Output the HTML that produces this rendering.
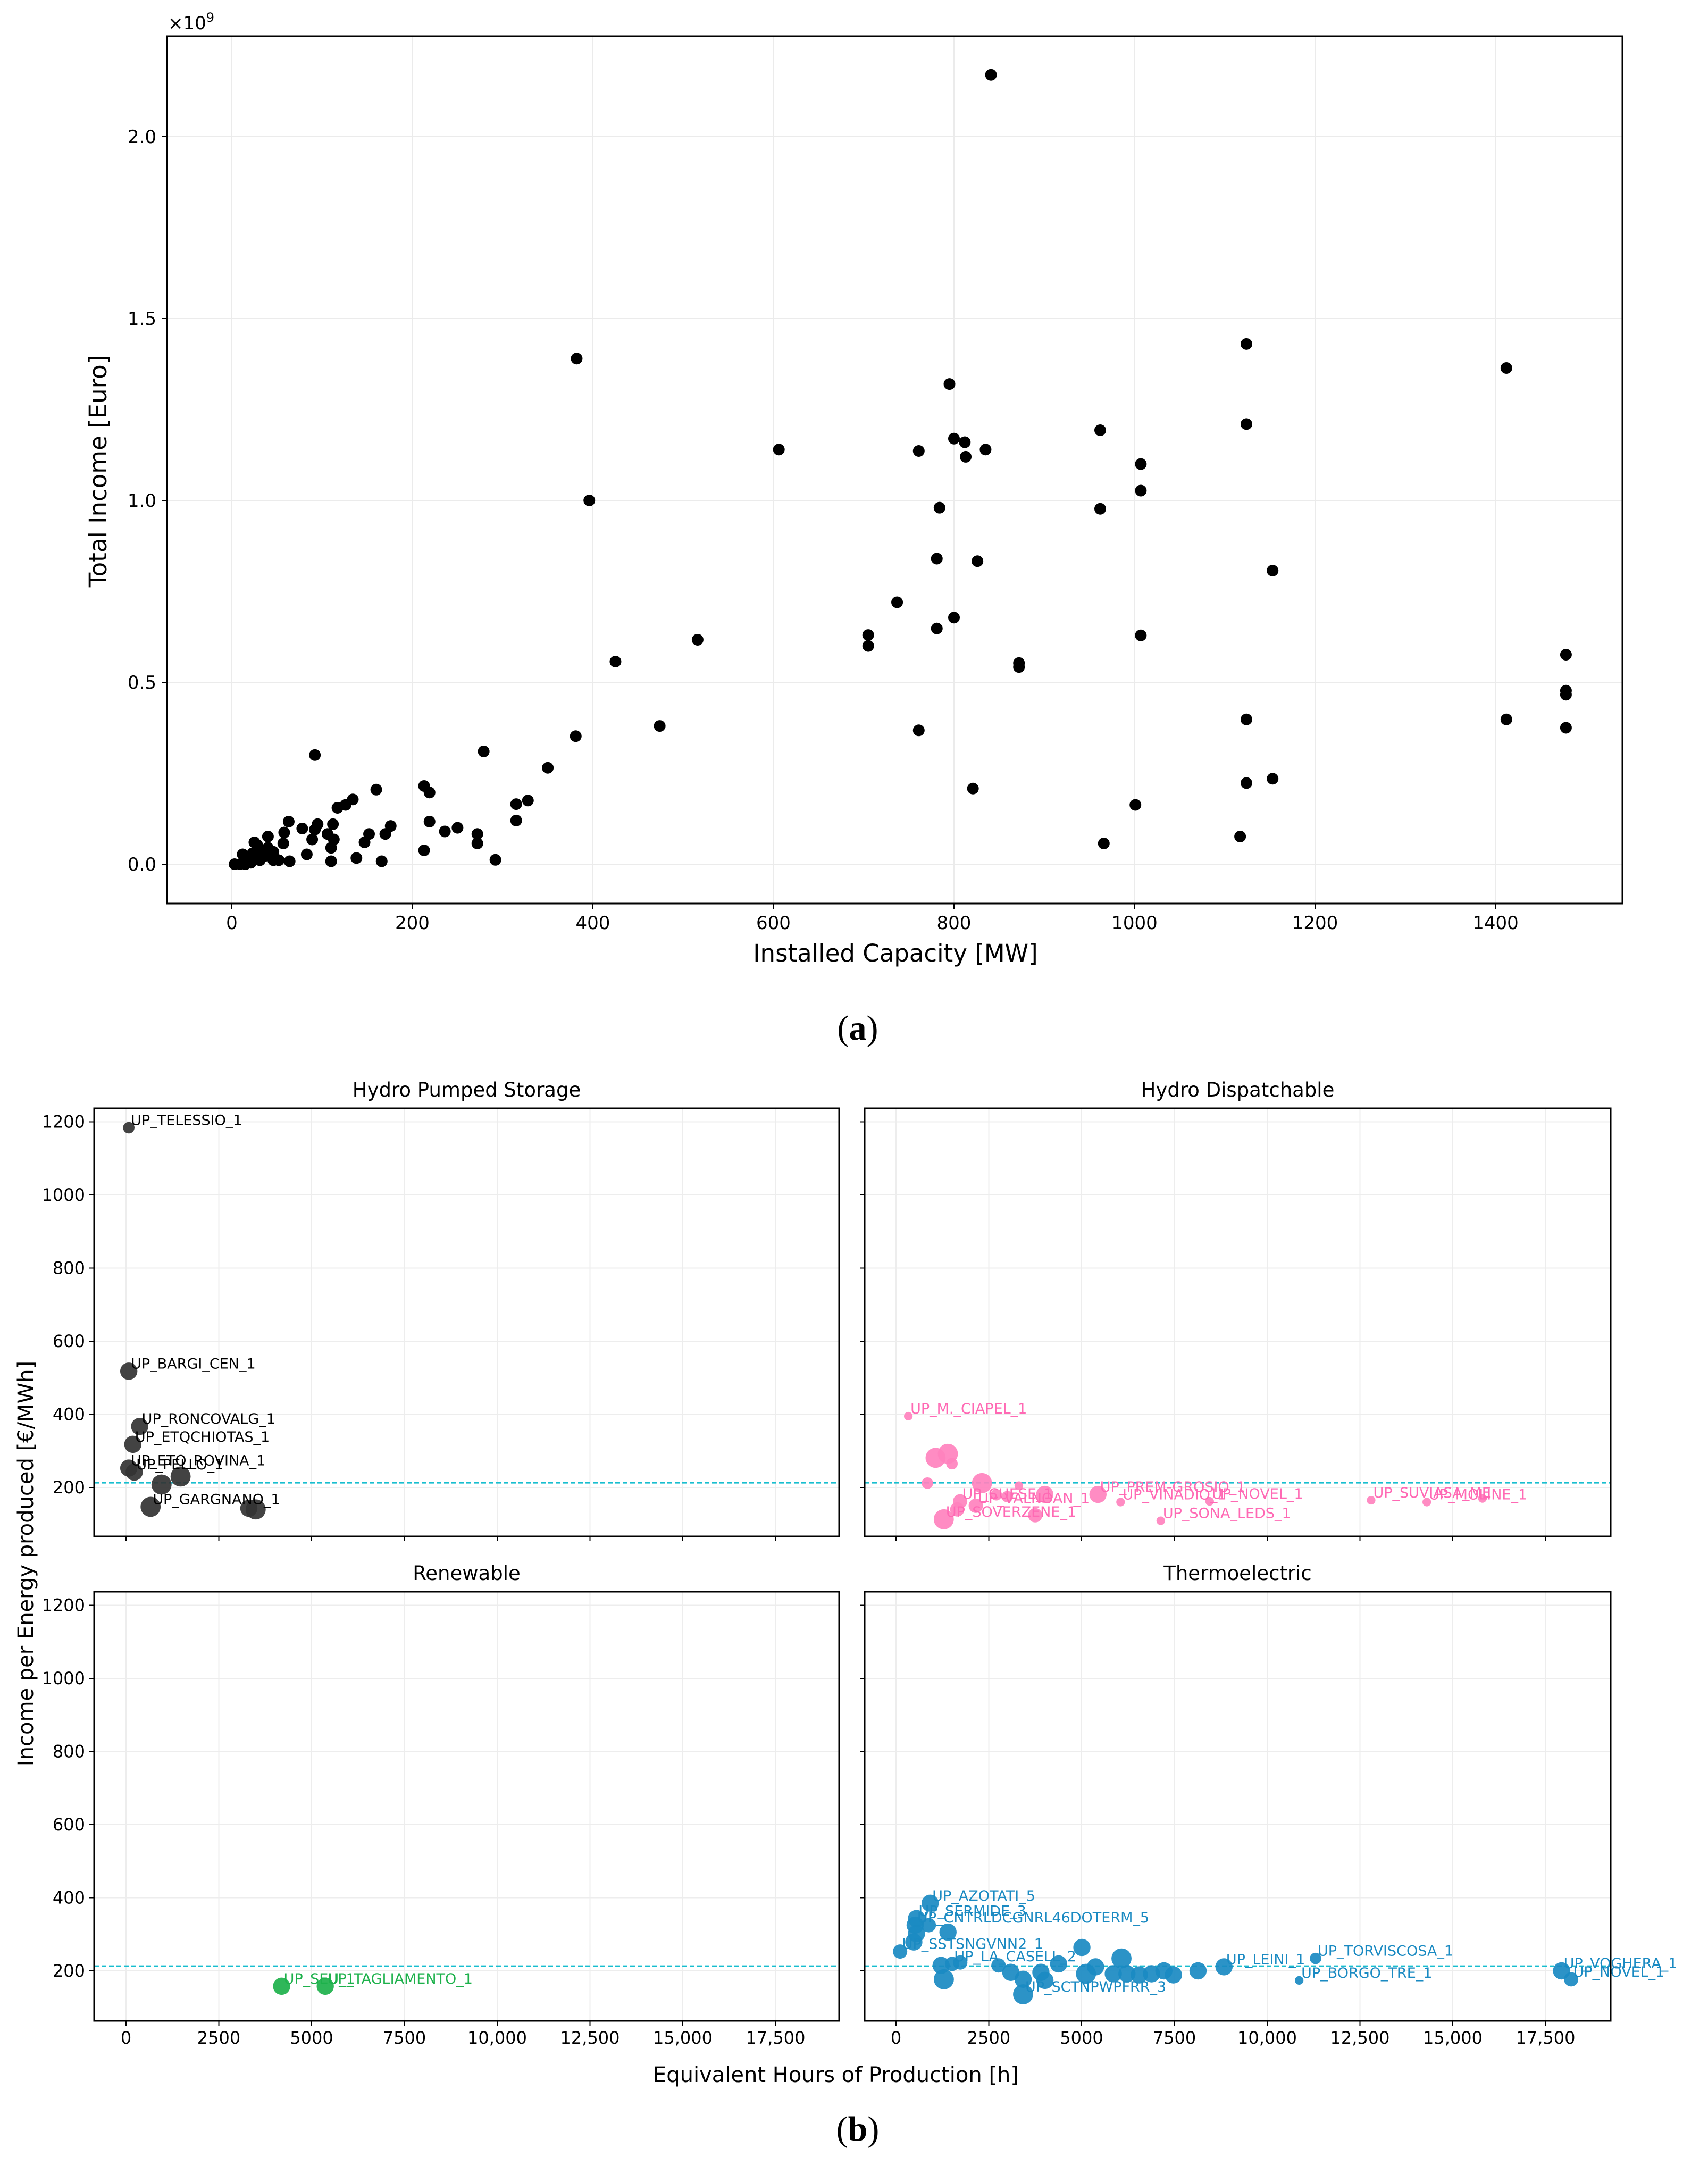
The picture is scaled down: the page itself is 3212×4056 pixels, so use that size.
<!DOCTYPE html>
<html><head><meta charset="utf-8">
<style>
html,body{margin:0;padding:0;background:#fff;}
svg{display:block;font-family:"DejaVu Sans","Liberation Sans",sans-serif;}
</style></head>
<body>
<svg id="fig" width="3212" height="4056" viewBox="0 0 3212 4056" xmlns="http://www.w3.org/2000/svg">
<rect width="3212" height="4056" fill="#fff"/>
</svg>
<script>
// ---------- Chart (a) data ----------
const capX = [841,382,396,606,425,516,474,381,350,279,328,315,315,292,272,272,250,236,219,219,213,213,176,170,160,166,152,147,138,134,126,117,112,110,110,113,106,95,92,92,89,83,78,64,63,58,52,57,46,40,40,34,28,23,18,15,9,3,12,21,31,28,37,46,25,
705,705,737,761,761,795,800,812,813,835,784,781,781,800,826,821,872,872,962,962,1007,1007,1007,1001,966,1124,1124,1153,1124,1124,1153,1117,1412,1412,1478,1478,1478,1478];
const incomeY = [2.17,1.39,1.00,1.14,0.557,0.617,0.38,0.352,0.265,0.31,0.175,0.165,0.12,0.012,0.083,0.057,0.10,0.09,0.117,0.197,0.215,0.038,0.105,0.083,0.205,0.008,0.083,0.06,0.017,0.178,0.163,0.155,0.11,0.045,0.008,0.068,0.083,0.11,0.095,0.30,0.068,0.027,0.098,0.008,0.117,0.087,0.011,0.057,0.034,0.045,0.076,0.027,0.053,0.03,0.015,0,0,0,0.027,0.004,0.011,0.038,0.023,0.011,0.06,
0.63,0.60,0.72,1.136,0.368,1.32,1.17,1.16,1.12,1.14,0.98,0.84,0.648,0.678,0.833,0.208,0.553,0.542,1.193,0.977,1.10,1.027,0.629,0.163,0.057,1.43,1.21,0.807,0.398,0.223,0.235,0.076,1.364,0.398,0.576,0.477,0.466,0.375];
const capTicks = [0,200,400,600,800,1000,1200,1400];
const incTicks = [0,0.5,1.0,1.5,2.0];
const incTickLabels = ["0.0","0.5","1.0","1.5","2.0"];

// ---------- Chart (b) data ----------
const hoursTicks = [0,2500,5000,7500,10000,12500,15000,17500];
const hoursTickLabels = ["0","2500","5000","7500","10,000","12,500","15,000","17,500"];
const ipeTicks = [200,400,600,800,1000,1200];
const avgLine = 213;

const hpsHours = [74,74,368,184,74,220,1470,956,662,3309,3493];
const hpsIncome = [1184,518,367,318,253,242,230,208,147,143,140];
const hpsSize = [4,6,6,6,6,6,7,7,7,6,7];
const hpsLabels = ["UP_TELESSIO_1","UP_BARGI_CEN_1","UP_RONCOVALG_1","UP_ETQCHIOTAS_1","UP_ETO_ROVINA_1","UP_PELLO_1","","","UP_GARGNANO_1","",""];

const hdHours = [331,1066,1397,1507,846,2316,3309,1287,1728,1650,2150,4008,5441,3750,7132,6050,8450,12800,14300,15800,2700,3000];
const hdIncome = [395,281,292,265,212,212,205,113,162,140,150,181,181,124,109,160,162,165,160,170,180,175];
const hdSize = [3,7,7,4,4,7,3,7,5,5,5,6,6,5,3,3,3,3,3,3,4,4];
const hdLabels = ["UP_M._CIAPEL_1","","","","","","","UP_SOVERZENE_1","UP_CUESE_1","","UP_VALNOAN_1","","UP_PREM-GROSIO_1","","UP_SONA_LEDS_1","UP_VINADIO_1","UP_NOVEL_1","UP_SUVIASA_ME","UP_MOLINE_1","","",""];

const renHours = [4192,5368];
const renIncome = [158,158];
const renSize = [6,6];
const renLabels = ["UP_SEU_1","UP_TAGLIAMENTO_1"];

const thHours = [920,552,515,552,479,883,1400,110,1215,1510,1289,1731,2761,3093,3424,3424,4013,3903,4381,5008,5118,5376,5854,6075,6222,6554,6885,7217,7474,8137,8837,10862,11304,17931,18189];
const thIncome = [385,343,325,302,279,325,306,253,215,219,177,223,215,196,177,136,174,196,219,264,192,211,192,234,192,189,192,200,189,200,211,174,234,200,177];
const thSize = [6,6,6,6,6,5,6,5,6,5,7,5,5,6,6,7,6,6,6,6,7,6,6,7,6,6,6,6,6,6,6,3,4,6,5];
const thLabels = ["UP_AZOTATI_5","UP_SERMIDE_3","UP_CNTRLDCGNRL46DOTERM_5","","","","","UP_SSTSNGVNN2_1","","UP_LA_CASELL_2","","","","","","UP_SCTNPWPFRR_3","","","","","","","","","","","","","","","UP_LEINI_1","UP_BORGO_TRE_1","UP_TORVISCOSA_1","UP_VOGHERA_1","UP_NOVEL_1"];
</script>
<script>
const NS="http://www.w3.org/2000/svg";
const svg=document.getElementById('fig');
function mk(tag,attrs,parent,text){const e=document.createElementNS(NS,tag);for(const k in attrs)e.setAttribute(k,attrs[k]);if(text!==undefined)e.textContent=text;(parent||svg).appendChild(e);return e;}

// ===== Chart (a) =====
const A={l:314,r:3051,t:68,b:1699};
const ax=v=>436+v*339.5/200;
const ay=v=>1625-v*342/0.5;
const gA=mk('g',{});


capTicks.forEach(t=>{
  const gl=mk('line',{x1:ax(t),x2:ax(t),y1:A.t,y2:A.b,stroke:'#ebebeb','stroke-width':2},gA);
  
  
});
incTicks.forEach(t=>{
  const gl=mk('line',{x1:A.l,x2:A.r,y1:ay(t),y2:ay(t),stroke:'#ebebeb','stroke-width':2},gA);
  
  
});
capX.forEach((v,i)=>{
  const c=mk('circle',{cx:ax(v),cy:ay(incomeY[i]),r:11,fill:'#000'},gA);
  
  
});
const frA=mk('rect',{x:A.l,y:A.t,width:A.r-A.l,height:A.b-A.t,fill:'none',stroke:'#000','stroke-width':3},gA);


capTicks.forEach(t=>{
  mk('line',{x1:ax(t),x2:ax(t),y1:A.b,y2:A.b+10,stroke:'#000','stroke-width':2},gA);
  const tl=mk('text',{x:ax(t),y:A.b+48,'font-size':34,'text-anchor':'middle',fill:'#000'},gA,String(t));
  
  
});
incTicks.forEach((t,i)=>{
  mk('line',{x1:A.l-10,x2:A.l,y1:ay(t),y2:ay(t),stroke:'#000','stroke-width':2},gA);
  const tl=mk('text',{x:A.l-20,y:ay(t)+12,'font-size':34,'text-anchor':'end',fill:'#000'},gA,incTickLabels[i]);
  
  
});
const mult=mk('text',{x:316,y:55,'font-size':34,fill:'#000'},gA);


mult.innerHTML='×10<tspan dy="-14" font-size="24">9</tspan>';
const xtA=mk('text',{x:1684,y:1808,'font-size':45,'text-anchor':'middle',fill:'#000'},gA,'Installed Capacity [MW]');


const ytA=mk('text',{x:200,y:886,'font-size':45,'text-anchor':'middle',fill:'#000',transform:'rotate(-90 200 886)'},gA,'Total Income [Euro]');


const la=mk('text',{x:1613,y:1955,'font-size':66,'text-anchor':'middle',fill:'#000','font-family':'Liberation Serif, serif'},svg);


la.innerHTML='(<tspan font-weight="bold">a</tspan>)';

// ===== Chart (b) =====
const panels=[
 {name:'hydro-pumped-storage',title:'Hydro Pumped Storage',l:177,r:1578,t:2084,b:2889,x0:237,y200:2797,col:'#333333',lc:'#000',H:hpsHours,I:hpsIncome,S:hpsSize,L:hpsLabels,ylab:true,xlab:false},
 {name:'hydro-dispatchable',title:'Hydro Dispatchable',l:1626,r:3029,t:2084,b:2889,x0:1685,y200:2797,col:'#ff82be',lc:'#ff69b4',H:hdHours,I:hdIncome,S:hdSize,L:hdLabels,ylab:false,xlab:false},
 {name:'renewable',title:'Renewable',l:177,r:1578,t:2993,b:3800,x0:237,y200:3706,col:'#1db14b',lc:'#1db14b',H:renHours,I:renIncome,S:renSize,L:renLabels,ylab:true,xlab:true},
 {name:'thermoelectric',title:'Thermoelectric',l:1626,r:3029,t:2993,b:3800,x0:1685,y200:3706,col:'#1a8ac2',lc:'#1a8ac2',H:thHours,I:thIncome,S:thSize,L:thLabels,ylab:false,xlab:true}
];
panels.forEach(p=>{
  const px=v=>p.x0+v*174.5/2500;
  const py=v=>p.y200-(v-200)*137.5/200;
  const g=mk('g',{});
  
  
  hoursTicks.forEach(t=>{
    const gl=mk('line',{x1:px(t),x2:px(t),y1:p.t,y2:p.b,stroke:'#ededed','stroke-width':2},g);
    
    
  });
  ipeTicks.forEach(t=>{
    const gl=mk('line',{x1:p.l,x2:p.r,y1:py(t),y2:py(t),stroke:'#ededed','stroke-width':2},g);
    
    
  });
  const al=mk('line',{x1:p.l,x2:p.r,y1:py(avgLine),y2:py(avgLine),stroke:'#17becf','stroke-width':3,'stroke-dasharray':'9,5'},g);
  
  
  p.H.forEach((h,i)=>{
    const c=mk('circle',{cx:px(h),cy:py(p.I[i]),r:p.S[i]*2.7,fill:p.col,'fill-opacity':0.92},g);
    
    
  });
  p.H.forEach((h,i)=>{
    if(!p.L[i])return;
    const t=mk('text',{x:px(h)+4,y:py(p.I[i])-5,'font-size':27,fill:p.lc},g,p.L[i]);
    
    
  });
  const fr=mk('rect',{x:p.l,y:p.t,width:p.r-p.l,height:p.b-p.t,fill:'none',stroke:'#000','stroke-width':3},g);
  
  
  hoursTicks.forEach((t,i)=>{
    mk('line',{x1:px(t),x2:px(t),y1:p.b,y2:p.b+9,stroke:'#000','stroke-width':2},g);
    if(p.xlab){
      const tl=mk('text',{x:px(t),y:p.b+43,'font-size':32,'text-anchor':'middle',fill:'#000'},g,hoursTickLabels[i]);
      
      
    }
  });
  ipeTicks.forEach(t=>{
    mk('line',{x1:p.l-9,x2:p.l,y1:py(t),y2:py(t),stroke:'#000','stroke-width':2},g);
    if(p.ylab){
      const tl=mk('text',{x:p.l-17,y:py(t)+11,'font-size':32,'text-anchor':'end',fill:'#000'},g,String(t));
      
      
    }
  });
  const tt=mk('text',{x:(p.l+p.r)/2,y:p.t-22,'font-size':37,'text-anchor':'middle',fill:'#000'},g,p.title);
  
  
});
const xtB=mk('text',{x:1572,y:3915,'font-size':40,'text-anchor':'middle',fill:'#000'},svg,'Equivalent Hours of Production [h]');


const ytB=mk('text',{x:62,y:2940,'font-size':40,'text-anchor':'middle',fill:'#000',transform:'rotate(-90 62 2940)'},svg,'Income per Energy produced [€/MWh]');


const lb=mk('text',{x:1613,y:4025,'font-size':66,'text-anchor':'middle',fill:'#000','font-family':'Liberation Serif, serif'},svg);


lb.innerHTML='(<tspan font-weight="bold">b</tspan>)';
</script>
</body></html>
